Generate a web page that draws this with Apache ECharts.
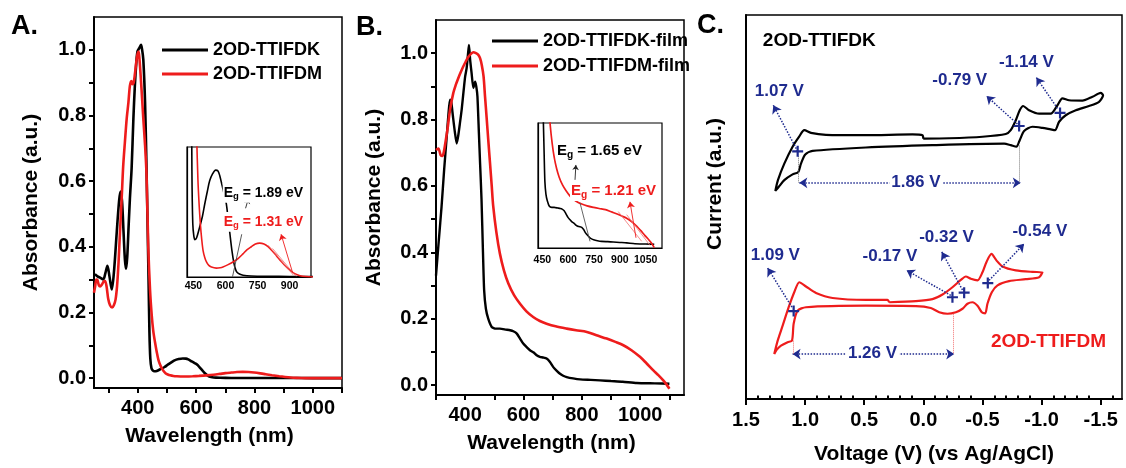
<!DOCTYPE html>
<html><head><meta charset="utf-8">
<script src="https://cdn.jsdelivr.net/npm/echarts@6/dist/echarts.min.js"></script>
<style>html,body{margin:0;padding:0;background:#fff}#c{width:1126px;height:468px}</style>
</head><body><div id="c"></div>
<script>
// ---------- Panel A: solution absorption ----------
const aBlackNm  = [253,262,271,282,289,296,303,311,319,328,336,341,346,351,356,360,364,368,373,379,385,390,395,399,405,411,415,419,425,430,434,437,440,443,447,452,457,465,479,492,503,515,526,540,554,565,573,585,595,604,612,620,630,640,648,655,668,682,720,800,900,1000,1100];
const aBlackAbs = [0.317,0.31,0.306,0.301,0.32,0.342,0.31,0.27,0.33,0.445,0.54,0.568,0.54,0.45,0.36,0.333,0.37,0.45,0.546,0.64,0.79,0.89,0.96,0.995,1.005,1.015,1.0,0.97,0.84,0.64,0.45,0.3,0.14,0.06,0.03,0.023,0.021,0.022,0.028,0.034,0.041,0.048,0.054,0.058,0.060,0.0595,0.057,0.051,0.046,0.041,0.033,0.025,0.015,0.0075,0.004,0.0025,0.0015,0.001,0.0006,0.0004,0.0003,0.0002,0.0002];
const aRedNm  = [250,254,258,262,267,271,277,283,288,293,299,305,312,318,324,329,334,339,345,350,356,362,368,373,378,382,386,390,396,400,403,406,410,415,419,425,430,436,442,448,453,459,465,471,477,483,489,495,503,511,522,534,557,575,588,610,635,660,682,700,721,740,760,780,799,820,838,860,885,905,924,945,962,990,1050,1100];
const aRedAbs = [0.26,0.28,0.30,0.298,0.282,0.279,0.285,0.294,0.296,0.28,0.24,0.222,0.215,0.222,0.24,0.28,0.35,0.444,0.55,0.645,0.72,0.79,0.84,0.89,0.905,0.895,0.9,0.925,0.97,0.99,0.995,0.97,0.92,0.85,0.79,0.71,0.62,0.4,0.27,0.19,0.145,0.11,0.08,0.055,0.04,0.029,0.021,0.015,0.011,0.0085,0.0065,0.0056,0.005,0.0052,0.0056,0.0068,0.0084,0.0105,0.013,0.0152,0.017,0.0185,0.019,0.0185,0.017,0.0145,0.012,0.0088,0.0056,0.0035,0.0019,0.0009,0.0004,0.0001,0,0];
const aXTicks = [300,400,500,600,700,800,900,1000,1100];
const aXLabels = [400,600,800,1000];
const absTicks = [0,0.1,0.2,0.3,0.4,0.5,0.6,0.7,0.8,0.9,1.0];
const absLabels = [0,0.2,0.4,0.6,0.8,1.0];
const insetALabels = [450,600,750,900];
// inset A annotations [x1,y1,x2,y2]
const insetABlackLines = [[633,0.0002,676,0.024]];
const insetABlackDash  = [[626,0.019,660,-0.001]];
const insetABlackArrow = [[694,0.0386,707,0.0440]];
const insetARedLines   = [[800,0.0178,918,0.001],[820,0.0160,930,0.0004]];
const insetARedArrow   = [[914,0.0024,860,0.024]];
const insetATexts = ['1.89 eV','1.31 eV'];
const insetATextPos = [[587,0.0472],[587,0.0309]];

// ---------- Panel B: film absorption ----------
const bBlackNm  = [300,310,319,328,336,343,348,352,358,365,371,376,382,388,395,400,405,410,413,417,422,428,434,438,442,447,451,456,461,465,471,479,491,505,519,540,554,565,577,588,599,610,622,635,645,656,667,679,690,702,714,725,736,748,770,794,830,862,900,940,988,1050,1100];
const bBlackAbs = [0.33,0.44,0.537,0.65,0.74,0.82,0.86,0.855,0.81,0.76,0.728,0.75,0.789,0.83,0.89,0.93,0.955,1.0,1.025,0.98,0.94,0.895,0.914,0.9,0.87,0.76,0.67,0.56,0.4,0.286,0.23,0.2,0.175,0.17,0.17,0.167,0.165,0.162,0.155,0.14,0.125,0.115,0.105,0.098,0.09,0.085,0.083,0.08,0.07,0.054,0.043,0.034,0.028,0.024,0.02,0.017,0.0155,0.014,0.012,0.01,0.006,0.005,0.004];
const bRedNm  = [300,308,316,322,327,333,339,348,359,368,376,385,393,402,410,419,428,437,445,451,457,463,468,474,479,485,491,496,507,519,533,548,568,588,610,633,656,679,710,748,780,817,850,885,915,942,970,999,1022,1045,1062,1079,1090,1100];
const bRedAbs = [0.708,0.713,0.693,0.69,0.703,0.735,0.768,0.829,0.879,0.905,0.924,0.943,0.959,0.975,0.988,0.997,1.003,1.0,0.995,0.985,0.964,0.93,0.87,0.8,0.74,0.67,0.6,0.54,0.46,0.396,0.345,0.306,0.27,0.245,0.222,0.205,0.193,0.185,0.177,0.17,0.165,0.16,0.15,0.14,0.13,0.12,0.105,0.085,0.065,0.044,0.03,0.014,0.002,-0.011];
const bXTicks = [300,400,500,600,700,800,900,1000,1100];
const bXLabels = [400,600,800,1000];
const insetBLabels = [450,600,750,900,1050];
const insetBBlackLines = [[669,0.19,727,0.017]];
const insetBBlackArrow = [[640,0.294,645,0.361]];
const insetBRedLines   = [[891,0.151,1027,0.017],[940,0.137,1075,-0.001]];
const insetBRedArrow   = [[994,0.033,959,0.195]];
const insetBTexts = ['1.65 eV','1.21 eV'];
const insetBTextPos = [[529,0.424],[611,0.244]];

// ---------- Panel C: cyclic voltammetry ----------
const cBlackV = [0.001,-0.218,-0.5,-0.697,-0.739,-0.782,-0.815,-0.844,-0.894,-0.979,-1.077,-1.134,-1.176,-1.232,-1.345,-1.43,-1.5,-1.52,-1.486,-1.401,-1.289,-1.204,-1.148,-1.114,-1.077,-1.007,-0.923,-0.852,-0.815,-0.787,-0.739,-0.683,-0.077,0.486,0.937,0.999,1.035,1.058,1.106,1.176,1.224,1.252,1.23,1.176,1.106,1.049,1.007,0.951,0.824,0.486,0.092,0.007,0.001];
const cBlackI = [67.8,67.9,68.3,69.0,70.0,72.6,75.2,76.3,75.2,74.3,74.3,76.5,78.3,77.8,77.7,78.7,79.7,79.1,77.4,76.3,75.2,73.9,72.2,70.0,70.2,70.6,70.9,69.8,67.4,65.7,66.1,66.5,66.1,65.5,64.6,63.7,61.3,59.1,58.5,57.0,55.2,54.2,57.0,61.3,65.7,68.4,70.0,69.3,68.8,68.7,68.9,68.7,67.8];
const cRedV = [0.289,0.063,-0.077,-0.162,-0.246,-0.317,-0.359,-0.401,-0.458,-0.5,-0.534,-0.576,-0.618,-0.669,-0.782,-0.923,-1.007,-0.979,-0.866,-0.725,-0.627,-0.579,-0.542,-0.523,-0.494,-0.458,-0.415,-0.373,-0.331,-0.275,-0.204,-0.134,-0.063,0.063,0.486,0.993,1.063,1.097,1.111,1.148,1.204,1.241,1.261,1.232,1.19,1.139,1.092,1.049,0.993,0.908,0.768,0.486,0.303,0.289];
const cRedI = [25.2,25.5,26.0,27.2,29.1,31.0,31.9,31.3,30.9,33.0,35.7,37.8,36.1,34.5,33.5,33.1,33.0,31.7,31.2,30.7,29.6,27.8,24.8,22.3,22.6,24.3,25.2,24.8,23.5,22.6,22.2,22.6,23.7,24.2,24.3,23.9,23.0,19.6,15.2,14.8,13.9,12.8,11.7,15.2,19.1,23.9,27.8,30.4,29.3,27.6,26.3,25.8,25.8,25.2];
const cXMajor = [1.5,1.0,0.5,0.0,-0.5,-1.0,-1.5];
const cXMinor = [1.4,1.3,1.2,1.1,0.9,0.8,0.7,0.6,0.4,0.3,0.2,0.1,-0.1,-0.2,-0.3,-0.4,-0.6,-0.7,-0.8,-0.9,-1.1,-1.2,-1.3,-1.4,-1.6];
const cPlusV = [1.063,-0.81,-1.156,1.097,-0.246,-0.345,-0.545];
const cPlusI = [64.5,71.1,74.5,22.9,26.5,27.7,30.2];
const cLabelText = ['1.07 V','-0.79 V','-1.14 V','1.86 V','1.09 V','-0.17 V','-0.32 V','-0.54 V','1.26 V'];
const cLabelV = [1.218,-0.308,-0.872,0.063,1.252,0.283,-0.196,-0.985,0.43];
const cLabelI = [80.0,82.9,87.8,56.3,37.4,37.1,42.2,43.7,12.0];
const cArrows = [[1.063,64.5,1.269,76.5],[-0.796,71.6,-0.534,78.9],[-1.134,75.7,-0.956,83.7],[1.111,23.9,1.317,34.1],[-0.232,27.0,0.142,33.5],[-0.331,28.4,-0.156,38.3],[-0.556,30.9,-0.852,40.4]];
const cGapArrows = [[1.049,56.3,-0.824,56.3],[1.106,11.7,-0.261,11.7]];
const cBlackDrops = [[1.055,63.2,1.055,56.3],[-0.815,66.0,-0.815,56.3]];
const cRedDrops = [[1.1,15.2,1.1,11.7],[-0.252,22.2,-0.252,11.7]];

// ---------- build ----------
const FONT = '"Liberation Sans", Arial, Helvetica, sans-serif';
const RED = '#ee1c1c';
const BLUE = '#1f2b8f';
const zip = (a, b) => a.map((x, i) => [x, b[i]]);
function segs(list, style, startSym, endSym, size) {
  return list.map(s => [
    {coord: [s[0], s[1]], lineStyle: style, symbol: startSym, symbolSize: size},
    {coord: [s[2], s[3]], symbol: endSym, symbolSize: size}
  ]);
}
const bold = (size, color) => ({fontSize: size, fontWeight: 'bold', color: color || '#000', fontFamily: FONT, opacity: 1});
function axis(o) {
  return Object.assign({
    type: 'value', splitLine: {show: false},
    axisLine: {show: true, onZero: false, lineStyle: {color: '#000', width: 2}},
    axisTick: {show: false}, axisLabel: {show: false}
  }, o);
}
const tick = (vals, len) => ({show: true, inside: false, length: len, lineStyle: {color: '#000', width: 2}, customValues: vals});
const plain = v => String(v);
const f1 = v => Number(v).toFixed(1);
const lab = (vals, size, margin, fmt) => Object.assign({show: true, customValues: vals, margin: margin, formatter: fmt || plain}, bold(size));
const gridBase = {show: true, borderColor: '#000', borderWidth: 1.5, backgroundColor: 'rgba(0,0,0,0)', containLabel: false, outerBoundsMode: 'none'};

const option = {
  animation: false,
  textStyle: {fontFamily: FONT},
  grid: [
    Object.assign({left: 94, top: 17, width: 248, height: 371}, gridBase),
    Object.assign({left: 187, top: 147, width: 124, height: 130}, gridBase, {borderWidth: 1.2}),
    Object.assign({left: 436, top: 20, width: 248, height: 375}, gridBase),
    Object.assign({left: 538, top: 123, width: 124, height: 125}, gridBase, {borderWidth: 1.2}),
    Object.assign({left: 746, top: 15, width: 376, height: 384}, gridBase)
  ],
  xAxis: [
    axis({gridIndex: 0, min: 250, max: 1100, axisTick: tick(aXTicks, 5), axisLabel: lab(aXLabels, 20, 10),
      name: 'Wavelength (nm)', nameLocation: 'middle', nameGap: 38, nameTextStyle: Object.assign(bold(21), {padding: [0, 17, 0, 0]})}),
    axis({gridIndex: 1, min: 420, max: 1000, axisLine: {show: true, onZero: false, lineStyle: {color: '#000', width: 1.2}}, axisLabel: lab(insetALabels, 10.5, 4)}),
    axis({gridIndex: 2, min: 300, max: 1150, axisTick: tick(bXTicks, 5), axisLabel: lab(bXLabels, 20, 10),
      name: 'Wavelength (nm)', nameLocation: 'middle', nameGap: 38, nameTextStyle: Object.assign(bold(21), {padding: [0, 17, 0, 0]})}),
    axis({gridIndex: 3, min: 425, max: 1145, axisLine: {show: true, onZero: false, lineStyle: {color: '#000', width: 1.2}}, axisLabel: lab(insetBLabels, 10.5, 7)}),
    axis({gridIndex: 4, min: -1.68, max: 1.5, inverse: true, axisTick: tick(cXMajor, 6), axisLabel: lab(cXMajor, 20, 11, f1),
      name: 'Voltage (V) (vs Ag/AgCl)', nameLocation: 'middle', nameGap: 45, nameTextStyle: bold(21)}),
    axis({gridIndex: 4, min: -1.68, max: 1.5, inverse: true, axisLine: {show: false}, axisTick: tick(cXMinor, 3.5)})
  ],
  yAxis: [
    axis({gridIndex: 0, min: -0.03, max: 1.1, axisTick: tick(absTicks, 5), axisLabel: lab(absLabels, 20, 8, f1),
      name: 'Absorbance (a.u.)', nameLocation: 'middle', nameGap: 52, nameRotate: 90, nameTextStyle: bold(21)}),
    axis({gridIndex: 1, min: 0, max: 0.073, axisLine: {show: true, onZero: false, lineStyle: {color: '#000', width: 1.2}}}),
    axis({gridIndex: 2, min: -0.03, max: 1.1, axisTick: tick(absTicks, 5), axisLabel: lab(absLabels, 20, 8, f1),
      name: 'Absorbance (a.u.)', nameLocation: 'middle', nameGap: 51, nameRotate: 90, nameTextStyle: Object.assign(bold(21), {padding: [0, 0, 0, 20]})}),
    axis({gridIndex: 3, min: -0.013, max: 0.55, axisLine: {show: true, onZero: false, lineStyle: {color: '#000', width: 1.2}}}),
    axis({gridIndex: 4, min: 0, max: 100,
      name: 'Current (a.u.)', nameLocation: 'middle', nameGap: 20, nameRotate: 90, nameTextStyle: Object.assign(bold(21), {padding: [0, 0, 0, 46]})})
  ],
  legend: [
    {left: 157, top: 36, orient: 'vertical', icon: 'rect', itemWidth: 46, itemHeight: 3, itemGap: 6, selectedMode: false,
      textStyle: Object.assign(bold(18), {lineHeight: 18}), data: ['2OD-TTIFDK', '2OD-TTIFDM']},
    {left: 487, top: 27, orient: 'vertical', icon: 'rect', itemWidth: 46, itemHeight: 3, itemGap: 7, selectedMode: false,
      textStyle: Object.assign(bold(18), {lineHeight: 18}), data: ['2OD-TTIFDK-film', '2OD-TTIFDM-film']}
  ],
  graphic: [
    {type: 'text', left: 11, top: 13, style: {text: 'A.', font: 'bold 27px ' + FONT, fill: '#000'}},
    {type: 'text', left: 356, top: 14, style: {text: 'B.', font: 'bold 27px ' + FONT, fill: '#000'}},
    {type: 'text', left: 697, top: 12, style: {text: 'C.', font: 'bold 27px ' + FONT, fill: '#000'}}
  ],
  series: []
};

const line = (name, xi, data, color, width, smooth, extra) => Object.assign({
  type: 'line', name: name, xAxisIndex: xi, yAxisIndex: xi, data: data, symbol: 'none', smooth: smooth,
  lineStyle: {color: color, width: width}, itemStyle: {color: color}, clip: true, z: 3
}, extra || {});
const mlBase = (data) => ({markLine: {silent: true, animation: false, label: {show: false}, symbol: ['none', 'none'], data: data}});

option.series.push(
  line('2OD-TTIFDK', 0, zip(aBlackNm, aBlackAbs), '#000', 2.6, 0.3),
  line('2OD-TTIFDM', 0, zip(aRedNm, aRedAbs), RED, 2.6, 0.3),
  line('insetA-K', 1, zip(aBlackNm, aBlackAbs), '#000', 1.6, 0.3, mlBase(
    segs(insetABlackLines, {color: '#444', width: 0.9, type: 'solid'}, 'none', 'none', 0)
    .concat(segs(insetABlackDash, {color: '#555', width: 0.9, type: 'dashed'}, 'none', 'none', 0))
    .concat(segs(insetABlackArrow, {color: '#222', width: 0.9, type: 'solid'}, 'none', 'arrow', 5)))),
  line('insetA-M', 1, zip(aRedNm, aRedAbs), RED, 1.6, 0.3, mlBase(
    segs(insetARedLines, {color: '#f07070', width: 0.8, type: 'solid'}, 'none', 'none', 0)
    .concat(segs(insetARedArrow, {color: RED, width: 0.9, type: 'solid'}, 'none', 'arrow', 6)))),
  line('2OD-TTIFDK-film', 2, zip(bBlackNm, bBlackAbs), '#000', 2.4, 0.2),
  line('2OD-TTIFDM-film', 2, zip(bRedNm, bRedAbs), RED, 2.6, 0.3),
  line('insetB-K', 3, zip(bBlackNm, bBlackAbs), '#000', 1.6, 0.2, mlBase(
    segs(insetBBlackLines, {color: '#555', width: 0.9, type: 'solid'}, 'none', 'none', 0)
    .concat(segs(insetBBlackArrow, {color: '#222', width: 0.9, type: 'solid'}, 'none', 'arrow', 5)))),
  line('insetB-M', 3, zip(bRedNm, bRedAbs), RED, 1.7, 0.3, mlBase(
    segs(insetBRedLines, {color: '#f07070', width: 0.8, type: 'solid'}, 'none', 'none', 0)
    .concat(segs(insetBRedArrow, {color: RED, width: 0.9, type: 'solid'}, 'none', 'arrow', 6)))),
  line('cv-K', 4, zip(cBlackV, cBlackI), '#000', 2.2, 0.25, mlBase(
    segs(cArrows.slice(0, 3), {color: BLUE, width: 1.5, type: 'dotted'}, 'none', 'arrow', 8)
    .concat(segs(cGapArrows.slice(0, 1), {color: BLUE, width: 1.5, type: 'dotted'}, 'arrow', 'arrow', 8))
    .concat(segs(cBlackDrops, {color: '#777', width: 1, type: 'dotted'}, 'none', 'none', 0)))),
  line('cv-M', 4, zip(cRedV, cRedI), RED, 2.2, 0.25, mlBase(
    segs(cArrows.slice(3), {color: BLUE, width: 1.5, type: 'dotted'}, 'none', 'arrow', 8)
    .concat(segs(cGapArrows.slice(1), {color: BLUE, width: 1.5, type: 'dotted'}, 'arrow', 'arrow', 8))
    .concat(segs(cRedDrops, {color: '#f07070', width: 1, type: 'dotted'}, 'none', 'none', 0))))
);

function egLabel(txt, color, size) {
  return {
    show: true, position: 'right', distance: 0, backgroundColor: '#fff', padding: [1, 1], opacity: 1,
    formatter: '{a|E}{s|g}{a| = ' + txt + '}',
    rich: {a: Object.assign(bold(size, color), {lineHeight: size + 2}), s: Object.assign(bold(size * 0.68, color), {padding: [size * 0.55, 0, 0, 0]})}
  };
}
const solid = {opacity: 1};
option.series.push({
  type: 'scatter', xAxisIndex: 1, yAxisIndex: 1, symbolSize: 0, z: 10, silent: true, itemStyle: solid,
  data: insetATextPos.map((p, i) => ({value: p, label: egLabel(insetATexts[i], i === 0 ? '#000' : RED, 14)}))
});
option.series.push({
  type: 'scatter', xAxisIndex: 3, yAxisIndex: 3, symbolSize: 0, z: 10, silent: true, itemStyle: solid,
  data: insetBTextPos.map((p, i) => ({value: p, label: egLabel(insetBTexts[i], i === 0 ? '#000' : RED, 15)}))
});
option.series.push({
  type: 'scatter', xAxisIndex: 4, yAxisIndex: 4, symbolSize: 0, z: 10, silent: true, itemStyle: solid,
  data: cLabelText.map((t, i) => ({value: [cLabelV[i], cLabelI[i]],
    label: Object.assign({show: true, position: 'inside', formatter: t, padding: [0, 2]}, bold(17, BLUE),
      (t === '1.86 V' || t === '1.26 V') ? {backgroundColor: '#fff'} : {})}))
    .concat([
      {value: [0.88, 93.3], label: Object.assign({show: true, position: 'inside', formatter: '2OD-TTIFDK'}, bold(19, '#000'))},
      {value: [-1.058, 15.0], label: Object.assign({show: true, position: 'inside', formatter: '2OD-TTIFDM'}, bold(19, RED))}
    ])
});
option.series.push({
  type: 'scatter', xAxisIndex: 4, yAxisIndex: 4, z: 11, silent: true,
  symbol: 'path://M4,0h2v4h4v2h-4v4h-2v-4h-4v-2h4z', symbolSize: 11,
  itemStyle: {color: BLUE, opacity: 1}, data: zip(cPlusV, cPlusI)
});

const chart = echarts.init(document.getElementById('c'));
chart.setOption(option);
</script></body></html>
